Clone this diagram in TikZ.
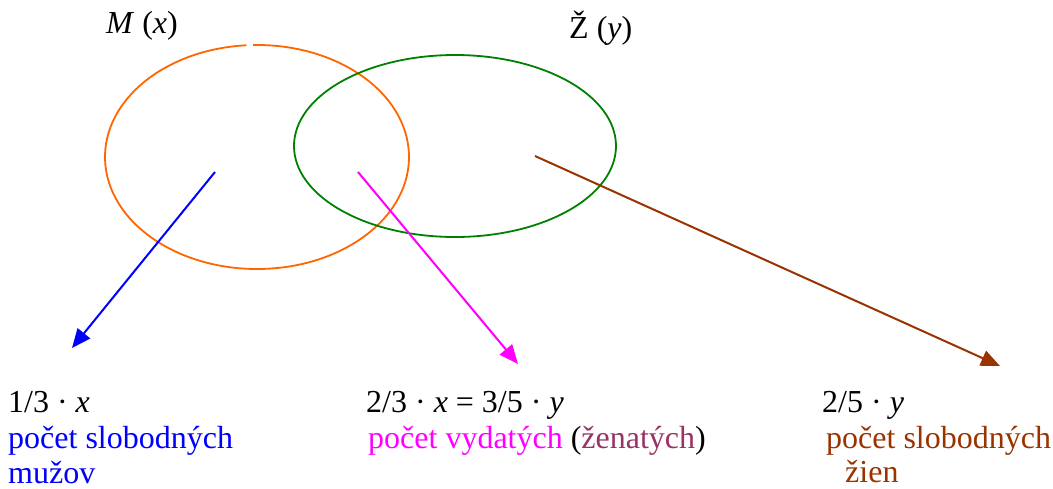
\documentclass[tikz,border=0pt]{standalone}
\usepackage{fontspec}
\setmainfont{Liberation Serif}
\usetikzlibrary{arrows.meta}
\definecolor{orng}{RGB}{255,102,0}
\definecolor{grn}{RGB}{0,128,0}
\definecolor{blu}{RGB}{0,0,255}
\definecolor{mag}{RGB}{255,0,255}
\definecolor{brn}{RGB}{153,51,0}
\definecolor{plum}{RGB}{153,51,102}
\tikzset{
  lbl/.style={anchor=base west, inner sep=0pt, font=\fontsize{32}{36}\selectfont},
  arr/.style={line width=2pt, -{Triangle[length=19pt,width=16pt]}},
  ring/.style={line width=1.8pt}
}
\begin{document}
\begin{tikzpicture}[x=1pt,y=-1pt]
\useasboundingbox (0,0) rectangle (1053,488);
% ellipses
\draw[ring, orng] (257,157) ++(268.5:152 and 112) arc[start angle=268.5, end angle=626, x radius=152, y radius=112];
\draw[ring, grn] (455,146) ellipse[x radius=161, y radius=91];
% top labels
\node[lbl] (M) at (106,33) {\textit{M} (\textit{x})};
\node[lbl] (Z) at (569,38) {Ž (\textit{y})};
% arrow ends
\coordinate (a1) at (215,172);
\coordinate (b1) at (72,348);
\coordinate (a2) at (358,172);
\coordinate (b2) at (518,364);
\coordinate (a3) at (535,156);
\coordinate (b3) at (1000,366);
\draw[arr, blu] (a1) -- (b1);
\draw[arr, mag] (a2) -- (b2);
\draw[arr, brn] (a3) -- (b3);
% bottom texts
\node[lbl] (t1) at (8,412) {1/3 · \textit{x}};
\node[lbl, blu] (t1a) at (8,448) {počet slobodných};
\node[lbl, blu] (t1b) at (8,483) {mužov};
\node[lbl] (t2) at (366,412) {2/3 · \textit{x} = 3/5 · \textit{y}};
\node[lbl] (t2a) at (368,448) {\textcolor{mag}{počet vydatých} (\textcolor{plum}{ženatých})};
\node[lbl] (t3) at (822,412) {2/5 · \textit{y}};
\node[lbl, brn] (t3a) at (826,448) {počet slobodných};
\node[lbl, brn] (t3b) at (845,482) {žien};
\end{tikzpicture}
\end{document}
